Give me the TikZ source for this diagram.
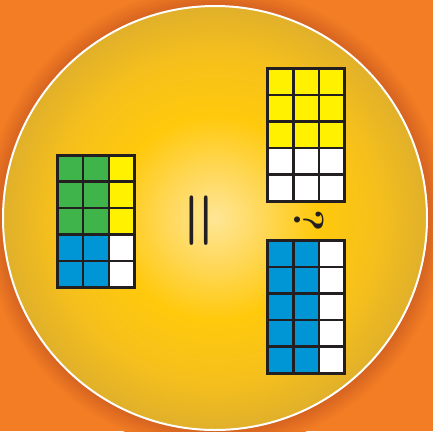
\documentclass[tikz,border=0pt]{standalone}
\usepackage{xcolor}
\usepackage{tikz}

\definecolor{bgorange}{RGB}{243,125,36}
\definecolor{shadeorange}{RGB}{212,98,32}
\definecolor{discin}{RGB}{255,230,150}
\definecolor{disclight}{RGB}{255,215,85}
\definecolor{discmid}{RGB}{255,201,12}
\definecolor{discouter}{RGB}{246,192,28}
\definecolor{discedge}{RGB}{224,176,42}
\definecolor{cellgreen}{RGB}{62,180,74}
\definecolor{cellyellow}{RGB}{255,241,0}
\definecolor{cellblue}{RGB}{0,150,214}
\definecolor{gridline}{RGB}{35,31,32}

\pgfdeclareradialshading{disc}{\pgfpoint{0bp}{0bp}}{%
  color(0bp)=(discin); color(6bp)=(disclight); color(12bp)=(discmid);
  color(19bp)=(discouter); color(25bp)=(discedge); color(50bp)=(discedge)}
\pgfdeclareradialshading{discshadow}{\pgfpoint{0bp}{0bp}}{%
  color(0bp)=(shadeorange); color(22.8bp)=(shadeorange);
  color(25bp)=(bgorange); color(50bp)=(bgorange)}

\begin{document}
\begin{tikzpicture}[x=1pt, y={(0,-1pt)},
  cellline/.style={draw=gridline, line width=2.3pt},
  outline/.style={draw=gridline, line width=3pt}]
  \useasboundingbox (0,0) rectangle (433,431);
  % orange page with the shadow round the disc
  \fill[bgorange] (0,0) rectangle (433,431);
  \shade[shading=discshadow] (215,218) circle[radius=232];
  % the disc
  \shade[shading=disc] (215,218) circle[radius=212];
  \draw[white, line width=2pt] (215,218) circle[radius=212];

  % left bar: 3 x 5 cells
  \begin{scope}[shift={(57.5,155)}]
    \foreach \i/\lft/\rgt in {0/cellgreen/cellyellow, 1/cellgreen/cellyellow,
        2/cellgreen/cellyellow, 3/cellblue/white, 4/cellblue/white}{
      \fill[\lft] (0,\i*26.5) rectangle ++(51.4,26.5);
      \fill[\rgt] (51.4,\i*26.5) rectangle ++(25.7,26.5);
      \foreach \j in {0,1,2}
        \draw[cellline] (\j*25.7,\i*26.5) rectangle ++(25.7,26.5);
    }
    \draw[outline] (0,0) rectangle (77.1,132.5);
  \end{scope}

  % right bar, top
  \begin{scope}[shift={(267.7,68.5)}]
    \foreach \i/\lft/\rgt in {0/cellyellow/cellyellow, 1/cellyellow/cellyellow,
        2/cellyellow/cellyellow, 3/white/white, 4/white/white}{
      \fill[\lft] (0,\i*26.5) rectangle ++(51.4,26.5);
      \fill[\rgt] (51.4,\i*26.5) rectangle ++(25.7,26.5);
      \foreach \j in {0,1,2}
        \draw[cellline] (\j*25.7,\i*26.5) rectangle ++(25.7,26.5);
    }
    \draw[outline] (0,0) rectangle (77.1,132.5);
  \end{scope}

  % right bar, bottom
  \begin{scope}[shift={(267.7,240.5)}]
    \foreach \i in {0,...,4}{
      \fill[cellblue] (0,\i*26.5) rectangle ++(51.4,26.5);
      \fill[white] (51.4,\i*26.5) rectangle ++(25.7,26.5);
      \foreach \j in {0,1,2}
        \draw[cellline] (\j*25.7,\i*26.5) rectangle ++(25.7,26.5);
    }
    \draw[outline] (0,0) rectangle (77.1,132.5);
  \end{scope}

  % signs
  \node[rotate=90, text=gridline, inner sep=0pt,
        font=\fontsize{66}{66}\selectfont\bfseries] (equal) at (203,220.5) {=};
  \node[rotate=-90, text=gridline, inner sep=0pt,
        font=\fontsize{42}{42}\selectfont\bfseries] (query) at (309,221) {?};
\end{tikzpicture}
\end{document}
